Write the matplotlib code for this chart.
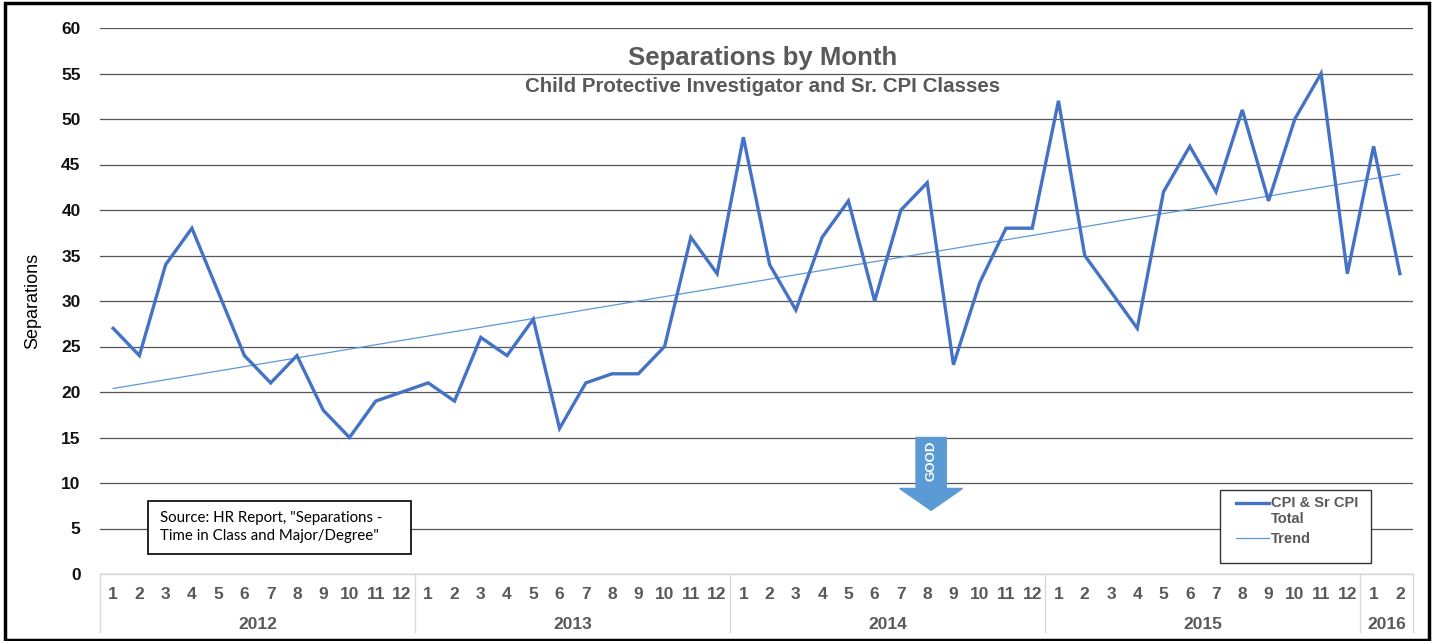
import numpy as np
import matplotlib
matplotlib.use("Agg")
import matplotlib.pyplot as plt
from matplotlib.patches import Rectangle, FancyArrow
from matplotlib.legend_handler import HandlerLine2D

plt.rcParams['font.family'] = ['Liberation Sans', 'DejaVu Sans']

years = ['2012', '2013', '2014', '2015', '2016']
months_per_year = [12, 12, 12, 12, 2]
values = [27, 24, 34, 38, 31, 24, 21, 24, 18, 15, 19, 20,
          21, 19, 26, 24, 28, 16, 21, 22, 22, 25, 37, 33,
          48, 34, 29, 37, 41, 30, 40, 43, 23, 32, 38, 38,
          52, 35, 31, 27, 42, 47, 42, 51, 41, 50, 55, 33,
          47, 33]
yticks = list(range(0, 61, 5))

month_labels = []
for n in months_per_year:
    month_labels += [str(m) for m in range(1, n + 1)]
x = np.arange(1, len(values) + 1)
coef = np.polyfit(x, values, 1)
trend = np.polyval(coef, x)

fig = plt.figure(figsize=(14.4, 6.41), dpi=100)
ax = fig.add_axes([100/1440, 1-574/641, 1313/1440, 546/641])

LINE = '#4472C4'
LIGHT = '#5B9BD5'
GRAY = '#595959'

main_line, = ax.plot(x, values, color=LINE, lw=2.4, label='CPI & Sr CPI\nTotal', zorder=3,
                     solid_joinstyle='miter')
ax.plot(x, trend, color=LIGHT, lw=0.9, label='Trend', zorder=2)

ax.set_xlim(0.5, len(values) + 0.5)
ax.set_ylim(0, 60)
ax.set_yticks(yticks)
ax.set_yticklabels([str(v) for v in yticks], fontsize=12.5, fontweight='bold', color='#111111')
ax.tick_params(axis='y', length=0, pad=14)
ax.yaxis.grid(True, color='#555555', lw=0.9)
ax.set_axisbelow(True)
ax.set_xticks([])
for s in ax.spines.values():
    s.set_visible(False)

ax.set_ylabel('Separations', fontsize=13, labelpad=14)

# category axis (two-level)
tr = ax.get_xaxis_transform()
for xi, lab in zip(x, month_labels):
    ax.text(xi, -0.038, lab, transform=tr, ha='center', va='center',
            fontsize=12.5, fontweight='bold', color=GRAY)
start = 0.5
bounds = [start]
for yr, n in zip(years, months_per_year):
    end = start + n
    ax.text((start + end) / 2, -0.092, yr, transform=tr, ha='center', va='center',
            fontsize=12.5, fontweight='bold', color=GRAY)
    bounds.append(end)
    start = end
for b in bounds:
    ax.plot([b, b], [0, -0.107], transform=tr, color='#d9d9d9', lw=1, clip_on=False)
ax.plot([0.5, len(values) + 0.5], [0, 0], transform=tr, color='#d9d9d9', lw=1, clip_on=False)

# titles
fig.text(763/1440, 1-58/641, 'Separations by Month', ha='center', va='center',
         fontsize=18.5, fontweight='bold', color=GRAY)
fig.text(763/1440, 1-86/641, 'Child Protective Investigator and Sr. CPI Classes', ha='center', va='center',
         fontsize=14.8, fontweight='bold', color=GRAY)

# source box
fig.patches.append(Rectangle((148/1440, 1-554/641), 263/1440, 53/641, transform=fig.transFigure,
                             fill=True, facecolor='white', edgecolor='black', lw=1.2, zorder=5))
fig.text(160/1440, 1-527/641, 'Source: HR Report, "Separations -\nTime in Class and Major/Degree"',
         ha='left', va='center', fontsize=10.8, family=['Lato', 'DejaVu Sans'], linespacing=1.3, zorder=6)

# GOOD arrow
arr = FancyArrow(32.15, 15, 0, -8, width=1.15, head_width=2.4, head_length=2.4,
                 length_includes_head=True, color=LIGHT, zorder=4)
ax.add_patch(arr)
ax.text(32.15, 12.4, 'GOOD', rotation=90, ha='center', va='center', color='white',
        fontsize=9.5, fontweight='bold', zorder=5)


class UpHandler(HandlerLine2D):
    def __init__(self, dy, **kw):
        super().__init__(**kw)
        self.dy = dy

    def create_artists(self, legend, orig_handle, xdescent, ydescent, width, height, fontsize, trans):
        return super().create_artists(legend, orig_handle, xdescent, ydescent - 2 * self.dy,
                                      width, height, fontsize, trans)


# legend box (white background with border) and legend entries
ax.add_patch(Rectangle((1220/1440, 1-563/641), 151/1440, 73/641, transform=fig.transFigure,
                       facecolor='white', edgecolor='#333333', lw=1, zorder=4, clip_on=False))
leg = ax.legend(loc='upper left', bbox_to_anchor=((1229-100)/1313, 1-(489-28)/546),
                frameon=False, handler_map={main_line: UpHandler(5.5)},
                prop={'weight': 'bold', 'size': 10.5}, handlelength=2.3, handletextpad=0.15,
                borderpad=0.45, labelspacing=0.45, borderaxespad=0)
leg.set_zorder(6)
for t in leg.get_texts():
    t.set_color(GRAY)

# outer frame
fig.patches.append(Rectangle((5/1440, 0.002), 1424/1440, 0.993, transform=fig.transFigure,
                             fill=False, edgecolor='black', lw=2.5))

fig.savefig('out.png', dpi=100, facecolor='white')
